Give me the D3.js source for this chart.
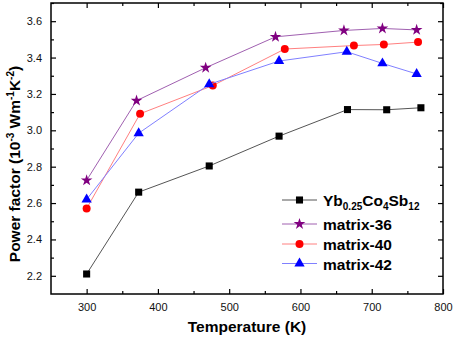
<!DOCTYPE html>
<html><head><meta charset="utf-8">
<script src="https://cdn.jsdelivr.net/npm/d3@7/dist/d3.min.js"></script>
<style>body{margin:0;background:#fff}svg{display:block}text{font-family:"Liberation Sans",Arial,sans-serif}</style>
</head><body>
<script>
const temps_yb = [300, 373, 472, 570, 666, 721, 769];
const pf_yb = [2.21, 2.66, 2.804, 2.968, 3.114, 3.113, 3.124];
const temps_36 = [300, 370, 467, 565, 661, 715, 763];
const pf_36 = [2.725, 3.163, 3.344, 3.514, 3.549, 3.56, 3.552];
const temps_40 = [300, 375, 477, 578, 675, 717, 765];
const pf_40 = [2.57, 3.091, 3.246, 3.447, 3.466, 3.472, 3.485];
const temps_42 = [300, 373, 472, 570, 665, 715, 763];
const pf_42 = [2.62, 2.984, 3.253, 3.381, 3.432, 3.368, 3.31];
const xTicks = [300, 400, 500, 600, 700, 800];
const yTicks = [2.2, 2.4, 2.6, 2.8, 3.0, 3.2, 3.4, 3.6];

const W = 454, H = 339;
const L = 51, R = 443, T = 3, B = 294;
const svg = d3.select("body").append("svg").attr("width", W).attr("height", H);
const x = d3.scaleLinear().domain([250, 800]).range([L, R]);
const y = d3.scaleLinear().domain([2.1, 3.7]).range([B, T]);

const series = [
  {name: "Yb", xs: temps_yb, ys: pf_yb, line: "#555555", color: "#000000", shape: d3.symbolSquare, size: 50},
  {name: "matrix-36", xs: temps_36, ys: pf_36, line: "#a060b0", color: "#800080", shape: d3.symbolStar, size: 42},
  {name: "matrix-40", xs: temps_40, ys: pf_40, line: "#ff8080", color: "#ff0000", shape: d3.symbolCircle, size: 50},
  {name: "matrix-42", xs: temps_42, ys: pf_42, line: "#8080ff", color: "#0000ff", shape: d3.symbolTriangle, size: 46}
];

// axes
const fmtY = d3.format(".1f");
svg.append("g").attr("transform", `translate(0,${B})`)
  .call(d3.axisBottom(x).tickValues(xTicks).tickSize(-5).tickPadding(9));
svg.append("g").attr("transform", `translate(0,${B})`)
  .call(d3.axisBottom(x).tickValues(d3.range(350, 800, 100)).tickSize(-3).tickFormat(""));
svg.append("g").attr("transform", `translate(0,${T})`)
  .call(d3.axisTop(x).tickValues(xTicks).tickSize(-5).tickFormat(""));
svg.append("g").attr("transform", `translate(0,${T})`)
  .call(d3.axisTop(x).tickValues(d3.range(350, 800, 100)).tickSize(-3).tickFormat(""));
svg.append("g").attr("transform", `translate(${L},0)`)
  .call(d3.axisLeft(y).tickValues(yTicks).tickSize(-5).tickPadding(9).tickFormat(fmtY));
svg.append("g").attr("transform", `translate(${L},0)`)
  .call(d3.axisLeft(y).tickValues(d3.range(2.3, 3.7, 0.2)).tickSize(-3).tickFormat(""));
svg.append("g").attr("transform", `translate(${R},0)`)
  .call(d3.axisRight(y).tickValues(yTicks).tickSize(-5).tickFormat(""));
svg.append("g").attr("transform", `translate(${R},0)`)
  .call(d3.axisRight(y).tickValues(d3.range(2.3, 3.7, 0.2)).tickSize(-3).tickFormat(""));
svg.selectAll(".domain").remove();
svg.selectAll(".tick line").attr("stroke", "#000").attr("stroke-width", 1.2);
svg.selectAll(".tick text").attr("font-size", 11).attr("fill", "#111")
  .style("font-family", '"Liberation Sans",Arial,sans-serif');
svg.append("rect").attr("x", L).attr("y", T).attr("width", R - L).attr("height", B - T)
  .attr("fill", "none").attr("stroke", "#000").attr("stroke-width", 1.5);

// lines & markers
const line = d3.line();
series.forEach(s => {
  const pts = s.xs.map((v, i) => [x(v), y(s.ys[i])]);
  svg.append("path").attr("d", line(pts)).attr("fill", "none").attr("stroke", s.line).attr("stroke-width", 1);
  svg.selectAll(null).data(pts).enter().append("path")
    .attr("transform", d => `translate(${d[0]},${d[1]})`)
    .attr("d", d3.symbol().type(s.shape).size(s.size)).attr("fill", s.color);
});

// legend
const legY = [200, 224, 244, 263.5];
series.forEach((s, i) => {
  const g = svg.append("g").attr("transform", `translate(0,${legY[i]})`);
  g.append("line").attr("x1", 282).attr("x2", 317).attr("y1", 0).attr("y2", 0).attr("stroke", s.line).attr("stroke-width", 1);
  g.append("path").attr("transform", "translate(299.5,0)").attr("d", d3.symbol().type(s.shape).size(s.size)).attr("fill", s.color);
  const t = g.append("text").attr("x", 323).attr("y", 6).attr("font-size", 15.5).attr("font-weight", "bold");
  if (s.name === "Yb") {
    t.append("tspan").text("Yb");
    t.append("tspan").text("0.25").attr("font-size", 10).attr("dy", 4);
    t.append("tspan").text("Co").attr("dy", -4);
    t.append("tspan").text("4").attr("font-size", 10).attr("dy", 4);
    t.append("tspan").text("Sb").attr("dy", -4);
    t.append("tspan").text("12").attr("font-size", 10).attr("dy", 4);
  } else t.text(s.name);
});

// axis titles
svg.append("text").attr("x", (L + R) / 2).attr("y", 332).attr("text-anchor", "middle")
  .attr("font-size", 15.5).attr("font-weight", "bold").text("Temperature (K)");
const yt = svg.append("text").attr("transform", `translate(20,164) rotate(-90)`)
  .attr("text-anchor", "middle").attr("font-size", 15.5).attr("font-weight", "bold");
yt.append("tspan").text("Power factor (10");
yt.append("tspan").text("-3").attr("font-size", 10).attr("dy", -6);
yt.append("tspan").text(" Wm").attr("dy", 6);
yt.append("tspan").text("-1").attr("font-size", 10).attr("dy", -6);
yt.append("tspan").text("K").attr("dy", 6);
yt.append("tspan").text("-2").attr("font-size", 10).attr("dy", -6);
yt.append("tspan").text(")").attr("dy", 6);
</script>
</body></html>
